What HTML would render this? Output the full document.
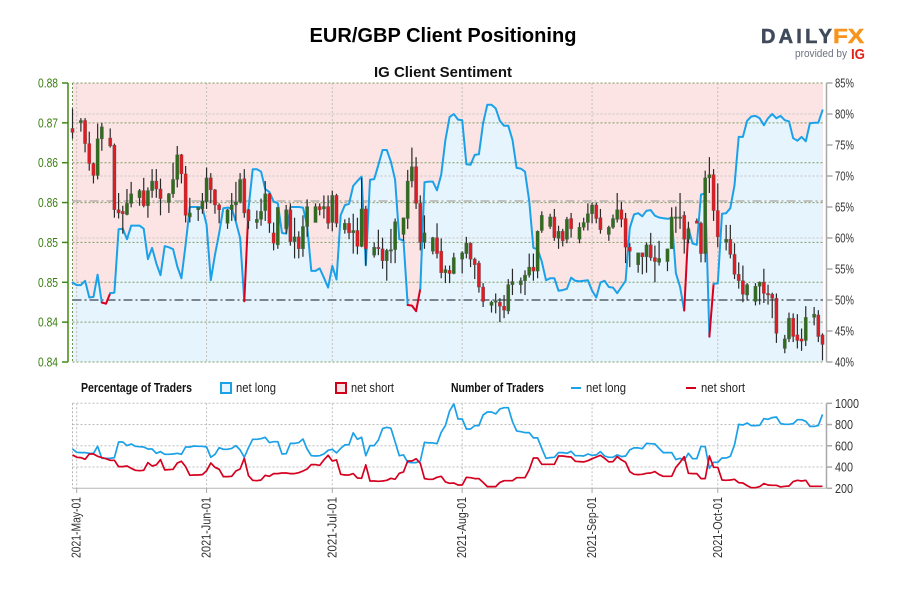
<!DOCTYPE html>
<html lang="en">
<head>
<meta charset="utf-8">
<title>EUR/GBP Client Positioning</title>
<style>
html,body{margin:0;padding:0;background:#fff;}
#chart{display:block;width:900px;height:600px;font-family:"Liberation Sans",sans-serif;}
</style>
</head>
<body>
<svg id="chart" xmlns="http://www.w3.org/2000/svg" width="900" height="600" viewBox="0 0 900 600">
  <rect x="0" y="0" width="900" height="600" fill="#ffffff"/>
  <text x="443" y="42" text-anchor="middle" font-size="20" font-weight="bold" fill="#000" textLength="267" lengthAdjust="spacingAndGlyphs">EUR/GBP Client Positioning</text>
  <text x="443" y="77" text-anchor="middle" font-size="15" font-weight="bold" fill="#111" textLength="138" lengthAdjust="spacingAndGlyphs">IG Client Sentiment</text>

  <g>
    <text x="761" y="43" font-size="20" font-weight="bold" fill="#3f4a5a" stroke="#3f4a5a" stroke-width="0.5" textLength="71" lengthAdjust="spacing">DAILY</text>
    <text x="833" y="43" font-size="20" font-weight="bold" fill="#f7941d" stroke="#f7941d" stroke-width="0.5" textLength="31" lengthAdjust="spacingAndGlyphs">FX</text>
    <text x="795" y="57" font-size="11" fill="#6b7280" textLength="52" lengthAdjust="spacingAndGlyphs">provided by</text>
    <text x="851" y="59" font-size="15" font-weight="bold" fill="#e2231a" textLength="14" lengthAdjust="spacingAndGlyphs">IG</text>
  </g>

  <g id="upper"></g>
  <g id="lower"></g>

  <g font-size="13" fill="#222">
    <text x="81" y="392" font-weight="bold" fill="#111" textLength="111" lengthAdjust="spacingAndGlyphs">Percentage of Traders</text>
    <rect x="221" y="383" width="10" height="10" fill="#e5f4fd" stroke="#1ba1e8" stroke-width="2"/>
    <text x="236" y="392" textLength="40" lengthAdjust="spacingAndGlyphs">net long</text>
    <rect x="336" y="383" width="10" height="10" fill="#f8e4e6" stroke="#d0021b" stroke-width="2"/>
    <text x="351" y="392" textLength="43" lengthAdjust="spacingAndGlyphs">net short</text>
    <text x="451" y="392" font-weight="bold" fill="#111" textLength="93" lengthAdjust="spacingAndGlyphs">Number of Traders</text>
    <line x1="571" y1="388" x2="581" y2="388" stroke="#1ba1e8" stroke-width="2"/>
    <text x="586" y="392" textLength="40" lengthAdjust="spacingAndGlyphs">net long</text>
    <line x1="686" y1="388" x2="696" y2="388" stroke="#d0021b" stroke-width="2"/>
    <text x="701" y="392" textLength="44" lengthAdjust="spacingAndGlyphs">net short</text>
  </g>
</svg>

<script>
// Candle days: calendar days since 2021-04-30 (Saturdays have no candle)
const candleDays = [
0,2,3,4,5,6,7,9,10,11,12,13,14,16,17,18,19,20,21,23,
24,25,26,27,28,30,31,32,33,34,35,37,38,39,40,41,42,44,45,46,
47,48,49,51,52,53,54,55,56,58,59,60,61,62,63,65,66,67,68,69,
70,72,73,74,75,76,77,79,80,81,82,83,84,86,87,88,89,90,91,93,
94,95,96,97,98,100,101,102,103,104,105,107,108,109,110,111,112,114,115,116,
117,118,119,121,122,123,124,125,126,128,129,130,131,132,133,135,136,137,138,139,
140,142,143,144,145,146,147,149,150,151,152,153,154,156,157,158,159,160,161,163,
164,165,166,167,168,170,171,172,173,174,175,177,178,179];

// EUR/GBP candles, price x 10000
const highs = [
8718,8706,8706,8689,8650,8699,8700,8693,8674,8612,
8596,8617,8626,8617,8631,8619,8642,8642,8630,8612,
8650,8671,8661,8646,8606,8594,8612,8644,8637,8617,
8599,8592,8612,8626,8637,8642,8592,8590,8605,8627,
8612,8575,8594,8597,8599,8581,8564,8584,8604,8599,
8599,8609,8609,8615,8611,8579,8581,8586,8581,8631,
8596,8550,8566,8556,8542,8567,8580,8581,8641,8669,
8657,8609,8584,8557,8574,8555,8521,8521,8537,8539,
8557,8550,8531,8527,8499,8477,8486,8480,8484,8504,
8517,8506,8515,8536,8536,8565,8589,8586,8592,8571,
8567,8582,8587,8575,8581,8599,8600,8600,8592,8571,
8585,8612,8601,8587,8549,8537,8537,8550,8562,8546,
8552,8542,8594,8595,8612,8589,8576,8580,8576,8640,
8657,8642,8624,8572,8572,8549,8525,8521,8499,8499,
8501,8517,8497,8487,8486,8434,8462,8461,8460,8442,
8470,8469,8465,8436];
const lows = [
8680,8689,8663,8640,8624,8629,8665,8669,8581,8580,
8561,8584,8594,8596,8594,8581,8606,8606,8584,8587,
8606,8619,8624,8575,8575,8577,8586,8592,8599,8586,
8574,8567,8577,8577,8599,8581,8567,8567,8571,8577,
8562,8540,8542,8561,8546,8530,8530,8532,8557,8575,
8584,8580,8567,8564,8569,8561,8554,8536,8535,8544,
8521,8531,8534,8517,8502,8524,8524,8552,8567,8619,
8592,8540,8542,8535,8530,8505,8499,8499,8510,8511,
8530,8519,8504,8487,8469,8462,8461,8450,8455,8460,
8484,8486,8484,8506,8502,8505,8562,8567,8552,8542,
8545,8549,8556,8549,8565,8565,8574,8574,8561,8552,
8567,8575,8569,8524,8519,8512,8510,8512,8527,8500,
8521,8514,8542,8562,8567,8536,8549,8574,8525,8525,
8612,8577,8544,8540,8530,8504,8492,8475,8477,8471,
8472,8474,8472,8455,8424,8411,8425,8425,8417,8414,
8420,8446,8425,8402];
const opens = [
8693,8700,8703,8674,8649,8634,8680,8681,8672,8591,
8589,8585,8599,8606,8615,8596,8615,8627,8617,8600,
8611,8629,8660,8636,8582,8591,8592,8601,8631,8616,
8597,8574,8591,8597,8601,8630,8591,8575,8579,8590,
8611,8562,8547,8567,8591,8551,8557,8542,8570,8575,
8595,8592,8595,8575,8609,8566,8574,8562,8565,8545,
8592,8534,8544,8542,8527,8540,8541,8560,8580,8627,
8645,8599,8550,8539,8556,8539,8512,8515,8511,8529,
8536,8549,8529,8524,8494,8471,8475,8475,8470,8464,
8497,8497,8502,8509,8519,8514,8565,8570,8582,8555,
8564,8554,8580,8554,8569,8575,8586,8597,8581,8560,
8569,8579,8591,8580,8544,8522,8537,8532,8547,8531,
8525,8526,8542,8581,8581,8584,8554,8577,8574,8536,
8631,8635,8590,8550,8554,8535,8510,8502,8484,8476,
8495,8500,8486,8485,8480,8417,8429,8455,8434,8429,
8427,8456,8459,8434];
const closes = [
8688,8703,8674,8649,8634,8680,8695,8671,8591,8587,
8586,8599,8611,8615,8596,8615,8627,8617,8605,8611,
8629,8660,8636,8584,8587,8594,8602,8631,8616,8597,
8591,8591,8597,8601,8629,8587,8577,8579,8589,8611,
8574,8549,8594,8591,8551,8557,8542,8570,8595,8595,
8591,8595,8574,8609,8574,8574,8562,8565,8545,8592,
8542,8544,8542,8527,8540,8541,8576,8581,8627,8645,
8599,8550,8562,8556,8536,8512,8516,8511,8531,8537,
8549,8529,8522,8494,8476,8475,8477,8470,8465,8497,
8501,8502,8509,8519,8514,8564,8584,8582,8556,8564,
8552,8579,8567,8569,8575,8586,8597,8580,8566,8569,
8580,8591,8579,8544,8539,8537,8532,8547,8531,8526,
8530,8542,8582,8582,8582,8554,8567,8574,8536,8631,
8635,8590,8557,8554,8535,8510,8502,8485,8497,8495,
8500,8486,8485,8480,8436,8429,8455,8432,8427,8426,
8456,8460,8432,8422];

// Percent of traders net long, one value per calendar day (day 0 = 2021-04-30)
const percentLong = [
52.8,52.4,52.4,53.1,50.4,50.5,54.1,49.6,49.4,51.1,
51.2,61.4,61.5,59.8,62,62,62,61.5,56.6,58.4,
55.9,54,58.7,58.5,58.2,55.4,53.5,58.9,65,65,
65,64.9,62.1,53.2,57.3,60.8,64.8,64.9,64.8,62.6,
60,49.8,64.7,71.1,71.1,70.7,67.9,67.4,65.9,65.6,
60.8,60.7,65,65,65,64.9,62.1,54.7,54.7,55.1,
53.6,52,55.5,53.3,63.7,65.3,65.5,68.4,69.2,69.9,
55.6,69.4,69.5,71.8,74.2,74.2,72.3,69.4,59.8,59.6,
49.2,49.1,48.2,51.8,69,69.1,69.1,67.7,70.2,75.8,
79.5,80,79.1,79,71.9,71.8,73.4,73.5,78.5,81.5,
81.5,80.9,78.9,78.1,78.1,75.8,71.3,71.2,70.7,66,
58.4,58.2,56.2,53.2,53.5,53.5,51.5,51.6,51.8,53.6,
53.1,53,53.1,53.2,51.5,50.4,52.8,53.1,52.1,52,
51.1,52.1,53.1,61.6,63.8,64,63.5,64.4,64.5,63.6,
63.3,63.2,63.1,63.2,54.3,52.1,48.3,61.6,59.1,58.9,
67,67.2,44.1,52.6,52.7,63.9,64,64.8,68.5,76.3,
76.3,78.9,79.6,79.7,79.3,78.2,79.3,80,79.3,79.7,
79,78.8,76.1,75.7,76.3,75.6,78.5,78.6,78.6,80.6];

// Number of traders, one value per calendar day
const countLong = [
570,539,536,536,529,529,595,482,482,482,
489,636,636,602,617,595,592,589,570,570,
529,545,520,520,523,529,520,589,589,598,
595,595,589,492,520,583,567,567,576,602,
561,492,583,661,661,667,680,630,639,639,
523,526,623,623,630,664,570,507,504,507,
523,558,567,533,576,608,611,721,661,680,
507,602,602,655,762,774,765,639,507,514,
445,442,442,457,633,627,627,620,727,790,
928,994,852,852,758,758,790,790,890,918,
918,900,947,959,959,827,740,733,724,724,
674,674,576,482,489,492,536,536,529,548,
507,507,504,523,511,514,545,504,492,492,
514,498,504,561,580,580,573,623,620,617,
576,536,536,536,470,482,464,529,479,479,
595,592,388,445,445,485,485,501,608,802,
796,815,790,790,793,856,849,865,871,809,
802,802,809,846,846,831,783,783,790,896];
const countShort = [
514,492,489,473,523,523,501,489,479,464,
464,404,404,410,388,369,366,369,442,410,
420,470,373,376,379,438,454,404,322,325,
325,329,366,438,398,379,310,310,313,363,
382,482,319,275,272,278,322,313,338,338,
344,344,338,338,347,363,382,423,423,416,
467,511,457,467,332,325,325,338,297,294,
420,269,269,266,269,275,294,285,341,354,
457,457,479,435,291,285,285,304,313,260,
247,250,231,231,304,300,291,291,256,216,
216,216,256,272,272,272,300,300,300,373,
485,485,426,426,426,426,504,504,498,495,
454,451,448,460,479,495,511,482,448,451,
498,467,445,357,332,329,332,341,344,357,
329,313,313,313,398,445,498,341,338,338,
291,291,504,398,398,278,275,278,285,253,
250,225,206,206,216,244,231,228,228,213,
219,222,263,275,269,275,219,219,219,219];

const priceTickValues = [8750,8700,8650,8600,8550,8500,8450,8400];
const priceTickLabels = ["0.88","0.87","0.86","0.86","0.85","0.85","0.84","0.84"];
const percentTicks = [85,80,75,70,65,60,55,50,45,40];
const percentGrid = [80,70,60];
const countTicks = [1000,800,600,400,200];
const monthDays = [1,32,62,93,124,154];
const monthLabels = ["2021-May-01","2021-Jun-01","2021-Jul-01","2021-Aug-01","2021-Sep-01","2021-Oct-01"];

const SVG_NS = "http://www.w3.org/2000/svg";
const upper = document.getElementById("upper");
const lower = document.getElementById("lower");
const PLOT_L = 72.5, PLOT_R = 823, PLOT_T = 83, PLOT_B = 362, LOW_T = 403.3, LOW_B = 488.3;
const xDay = d => 72.5 + 4.19 * d;
const yPrice = p => PLOT_B - (p - 8400) / 350 * (PLOT_B - PLOT_T);
const yPercent = v => PLOT_B - (v - 40) / 45 * (PLOT_B - PLOT_T);
const yCount = c => LOW_B - (c - 200) / 800 * (LOW_B - LOW_T);

function make(tag, parent, attrs, text) {
  const el = document.createElementNS(SVG_NS, tag);
  for (const k in attrs) el.setAttribute(k, attrs[k]);
  if (text !== undefined) el.textContent = text;
  parent.appendChild(el);
  return el;
}

// plot backgrounds
let el = make("rect", upper, {x: PLOT_L, y: PLOT_T, width: PLOT_R - PLOT_L, height: PLOT_B - PLOT_T, fill: "#fce4e5"});



const areaPts = percentLong.map((v, d) => xDay(d).toFixed(1) + "," + yPercent(v).toFixed(1));
el = make("polygon", upper, {points: PLOT_L + "," + PLOT_B + " " + areaPts.join(" ") + " " + xDay(percentLong.length - 1).toFixed(1) + "," + PLOT_B, fill: "#e5f4fd"});



// right-axis grid
percentGrid.forEach(v => {
  const g = make("line", upper, {x1: PLOT_L, x2: PLOT_R, y1: yPercent(v), y2: yPercent(v), stroke: "#c9c3c3", "stroke-width": 1, "stroke-dasharray": "2 2"});
  
  
});
// vertical month grid (upper)
monthDays.forEach(d => {
  const g = make("line", upper, {x1: xDay(d), x2: xDay(d), y1: PLOT_T, y2: PLOT_B, stroke: "#c4c0c0", "stroke-width": 1, "stroke-dasharray": "2 2"});
  
  
});
// price grid
priceTickValues.forEach(p => {
  const g = make("line", upper, {x1: PLOT_L, x2: PLOT_R, y1: yPrice(p), y2: yPrice(p), stroke: "#7d9c62", "stroke-width": 1, "stroke-dasharray": "2 2"});
  
  
});
el = make("line", upper, {x1: PLOT_L, x2: PLOT_L, y1: PLOT_T, y2: PLOT_B, stroke: "#6f9250", "stroke-width": 1, "stroke-dasharray": "2 2"});



// reference levels
el = make("line", upper, {x1: PLOT_L, x2: PLOT_R, y1: 201, y2: 201, stroke: "#b5b2ae", "stroke-width": 1.5, "stroke-dasharray": "9 3 2 3"});


el = make("line", upper, {x1: PLOT_L, x2: PLOT_R, y1: yPercent(50), y2: yPercent(50), stroke: "#7b8590", "stroke-width": 2, "stroke-dasharray": "9 3 2 3"});



// draws one series, colouring each segment by whether it starts below the threshold
function drawSentiment(parent, values) {
  let run = [], runColor = null;
  const flush = () => {
    if (run.length > 1) {
      const p = make("polyline", parent, {points: run.join(" "), fill: "none", stroke: runColor, "stroke-width": 2, "stroke-linejoin": "round", "stroke-linecap": "round"});
      
      
    }
  };
  for (let i = 0; i < values.length - 1; i++) {
    const c = values[i] >= 50 ? "#1ba1e8" : "#d5001f";
    const a = xDay(i).toFixed(1) + "," + yPercent(values[i]).toFixed(1);
    const b = xDay(i + 1).toFixed(1) + "," + yPercent(values[i + 1]).toFixed(1);
    if (c !== runColor) { flush(); run = [a]; runColor = c; }
    run.push(b);
  }
  flush();
}
drawSentiment(upper, percentLong);

// candles
candleDays.forEach((d, i) => {
  const x = xDay(d), up = closes[i] >= opens[i];
  const top = yPrice(Math.max(opens[i], closes[i]));
  const bot = yPrice(Math.min(opens[i], closes[i]));
  const wick = make("line", upper, {x1: x, x2: x, y1: yPrice(highs[i]), y2: yPrice(lows[i]), stroke: "#2a2a2a", "stroke-width": 1.2});
  
  
  const body = make("rect", upper, {x: x - 1.6, y: top, width: 3.2, height: Math.max(bot - top, 1.5), fill: up ? "#2f6d1c" : "#e01b22", stroke: "#555", "stroke-width": 0.5, "stroke-opacity": 0.7});
  
  
});

// left axis
el = make("line", upper, {x1: 68, x2: 68, y1: PLOT_T, y2: PLOT_B, stroke: "#3f8a12", "stroke-width": 1.5});


priceTickValues.forEach((p, i) => {
  const t = make("line", upper, {x1: 62, x2: 68, y1: yPrice(p), y2: yPrice(p), stroke: "#3f8a12", "stroke-width": 1.5});
  
  
  const l = make("text", upper, {x: 38, y: yPrice(p) + 4.5, "font-size": 13, fill: "#3a7d10", textLength: 20, lengthAdjust: "spacingAndGlyphs"}, priceTickLabels[i]);
  
  
});

// right axis (upper)
el = make("line", upper, {x1: 826.5, x2: 826.5, y1: PLOT_T, y2: PLOT_B, stroke: "#a8a8a8", "stroke-width": 1.5});


percentTicks.forEach(v => {
  const t = make("line", upper, {x1: 826.5, x2: 832.5, y1: yPercent(v), y2: yPercent(v), stroke: "#a8a8a8", "stroke-width": 1.5});
  
  
  const l = make("text", upper, {x: 835, y: yPercent(v) + 4.5, "font-size": 13, fill: "#333", textLength: 19, lengthAdjust: "spacingAndGlyphs"}, v + "%");
  
  
});

// lower panel grid
countTicks.forEach(c => {
  if (c === 200) return;
  const g = make("line", lower, {x1: PLOT_L, x2: PLOT_R, y1: yCount(c), y2: yCount(c), stroke: "#bdbdbd", "stroke-width": 1, "stroke-dasharray": "2 2"});
  
  
});
el = make("line", lower, {x1: PLOT_L, x2: PLOT_L, y1: LOW_T, y2: LOW_B, stroke: "#b5b5b5", "stroke-width": 1, "stroke-dasharray": "2 2"});


el = make("line", lower, {x1: PLOT_L, x2: 826, y1: LOW_B, y2: LOW_B, stroke: "#b5b5b5", "stroke-width": 1});



monthDays.forEach((d, i) => {
  const x = xDay(d);
  const g = make("line", lower, {x1: x, x2: x, y1: LOW_T, y2: LOW_B, stroke: "#bdbdbd", "stroke-width": 1, "stroke-dasharray": "2 2"});
  
  
  const t = make("line", lower, {x1: x, x2: x, y1: LOW_B, y2: 493, stroke: "#a8a8a8", "stroke-width": 1});
  
  
  const l = make("text", lower, {transform: "translate(" + (x + 4) + ",558) rotate(-90)", "font-size": 13, fill: "#333", textLength: 61, lengthAdjust: "spacingAndGlyphs"}, monthLabels[i]);
  
  
});

// count lines
const countPoints = arr => arr.map((c, d) => xDay(d).toFixed(1) + "," + yCount(c).toFixed(1)).join(" ");
el = make("polyline", lower, {points: countPoints(countLong), fill: "none", stroke: "#1ba1e8", "stroke-width": 1.7, "stroke-linejoin": "round"});


el = make("polyline", lower, {points: countPoints(countShort), fill: "none", stroke: "#d5001f", "stroke-width": 1.7, "stroke-linejoin": "round"});



// right axis (lower)
el = make("line", lower, {x1: 826.5, x2: 826.5, y1: LOW_T, y2: LOW_B, stroke: "#a8a8a8", "stroke-width": 1.5});


countTicks.forEach(c => {
  const t = make("line", lower, {x1: 826.5, x2: 832, y1: yCount(c), y2: yCount(c), stroke: "#a8a8a8", "stroke-width": 1.5});
  
  
  const l = make("text", lower, {x: 835, y: yCount(c) + 4.5, "font-size": 13, fill: "#333", textLength: c === 1000 ? 24 : 18, lengthAdjust: "spacingAndGlyphs"}, String(c));
  
  
});
</script>
</body>
</html>
